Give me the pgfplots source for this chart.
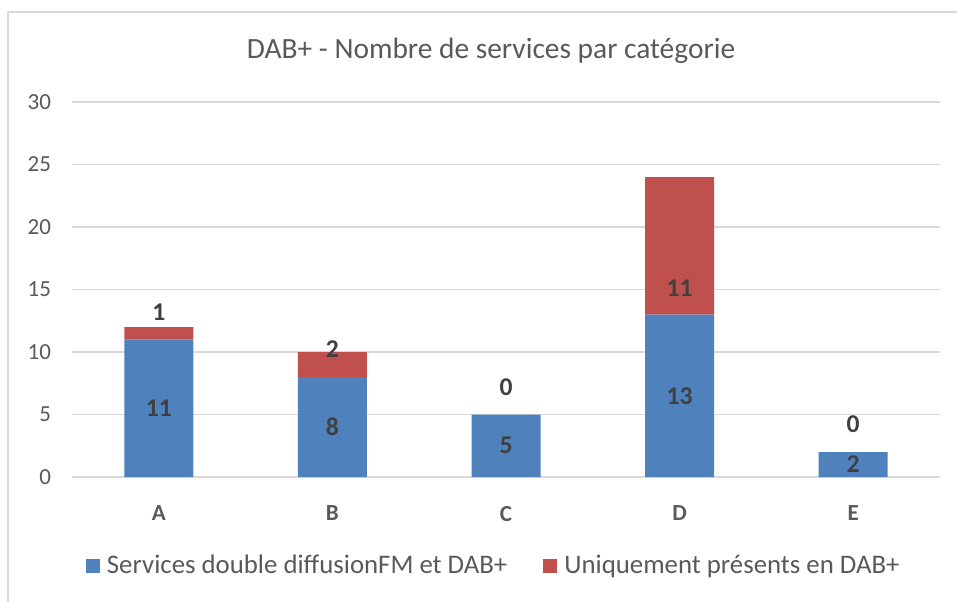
\documentclass[border=0pt]{standalone}
\usepackage{fontspec}
\setmainfont{Carlito}
\usepackage{pgfplots}
\pgfplotsset{compat=1.18}
\definecolor{cblue}{HTML}{4F81BD}
\definecolor{cred}{HTML}{C0504D}
\definecolor{cgrid}{HTML}{D9D9D9}
\definecolor{ctext}{HTML}{595959}
\definecolor{clab}{HTML}{404040}
\begin{document}
\begin{tikzpicture}
% 1 px of the reference = 0.5pt
\useasboundingbox (-36pt,-62.5pt) rectangle (442.5pt,238.5pt);
\draw[cgrid, line width=0.6pt] (-32pt,-62.5pt) -- (-32pt,232.5pt) -- (442.5pt,232.5pt);
\node[text=ctext, font=\fontsize{14.7}{17}\selectfont] at (209.5pt,213pt) {DAB+ - Nombre de services par catégorie};
\begin{axis}[
  at={(0,0)}, anchor=south west,
  scale only axis, width=434pt, height=187.5pt,
  ybar stacked, bar width=34.5pt,
  xmin=-0.5, xmax=4.5, ymin=0, ymax=30,
  xtick=data, xticklabels={A,B,C,D,E},
  ytick={0,5,...,30},
  axis x line*=bottom, axis y line*=left,
  x axis line style={draw=cgrid, line width=0.6pt},
  y axis line style={draw=none},
  ymajorgrids, grid style={cgrid, line width=0.6pt},
  major tick length=0pt,
  /pgf/number format/assume math mode=true,
  yticklabel style={text=ctext, font=\fontsize{11.5}{13}\selectfont, xshift=-7pt},
  xticklabel style={text=ctext, font=\bfseries\fontsize{11.5}{13}\selectfont, yshift=-11pt},
  legend style={at={(0.487,-0.237)}, anchor=center, draw=none, fill=none,
    legend columns=2, font=\fontsize{13.4}{15}\selectfont, text=ctext,
    /tikz/every even column/.append style={column sep=16pt},
    /tikz/every odd column/.append style={column sep=1.5pt}},
  legend image code/.code={\fill[#1] (0pt,-3.5pt) rectangle (7pt,3.5pt);},
]
\addplot[fill=cblue, draw=none] coordinates {(0,11) (1,8) (2,5) (3,13) (4,2)};
\addlegendentry{Services double diffusionFM et DAB+}
\addplot[fill=cred, draw=none] coordinates {(0,1) (1,2) (2,0) (3,11) (4,0)};
\addlegendentry{Uniquement présents en DAB+}
\end{axis}
\begin{axis}[
  at={(0,0)}, anchor=south west,
  scale only axis, width=434pt, height=187.5pt,
  xmin=-0.5, xmax=4.5, ymin=0, ymax=30, hide axis,
  nodes near coords, point meta=explicit symbolic,
  nodes near coords style={anchor=center, text=clab, font=\bfseries\fontsize{12.8}{14}\selectfont},
]
\addplot[draw=none, mark=none] coordinates {(0,5.5)[11] (1,4)[8] (2,2.5)[5] (3,6.5)[13] (4,1)[2]};
\addplot[draw=none, mark=none] coordinates {(0,13.2)[1] (1,10.2)[2] (2,7.2)[0] (3,15.1)[11] (4,4.2)[0]};
\end{axis}
\end{tikzpicture}
\end{document}
